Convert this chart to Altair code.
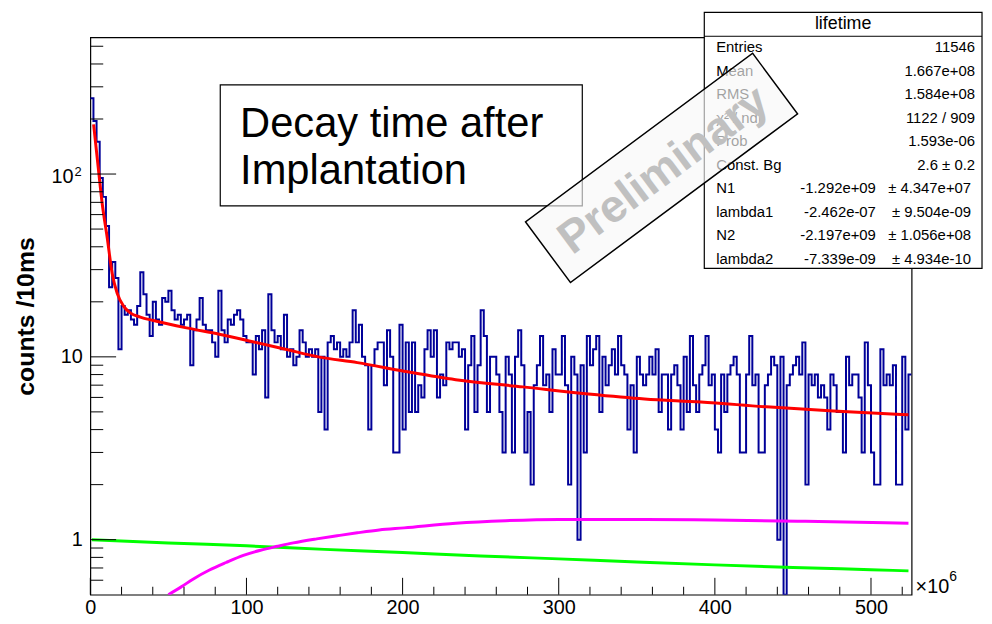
import altair as alt
import pandas as pd

# ---------------- data ----------------
BIN_WIDTH = 2.0  # x in units of 1e6
counts = [
    260, 195, 150, 95, 75, 52, 24, 33, 27, 11,
    19, 17, 18, 16, 15, 19, 29, 22, 17, 13,
    20, 16, 15, 21, 20, 23, 18, 16, 17, 15,
    16, 17, 9, 14, 16, 21, 15, 14, 14, 12,
    10, 23, 14, 12, 16, 15, 17, 18, 16, 13,
    12, 12, 8, 13, 11, 14, 6, 22, 14, 12,
    13, 11, 17, 10, 11, 9, 10, 14, 12, 10,
    11, 10, 11, 5, 10, 4, 12, 13, 11, 12,
    10, 11, 10, 12, 18, 12, 15, 10, 9, 4,
    9, 11, 12, 12, 7, 14, 10, 3, 3, 15,
    4, 12, 5, 12, 5, 7, 6, 11, 14, 10,
    14, 6, 8, 7, 12, 11, 12, 12, 10, 11,
    4, 9, 13, 5, 9, 18, 13, 5, 10, 10,
    8, 5, 3, 10, 8, 3, 10, 14, 9, 3,
    5, 2, 7, 9, 13, 7, 8, 5, 11, 8,
    8, 13, 7, 2, 10, 8, 1, 9, 3, 13,
    9, 11, 13, 5, 10, 7, 9, 11, 8, 13,
    9, 8, 4, 7, 3, 10, 8, 7, 8, 10,
    8, 11, 5, 8, 8, 4, 8, 9, 7, 4,
    10, 5, 13, 7, 5, 8, 9, 13, 7, 8,
    4, 3, 8, 5, 8, 9, 10, 8, 3, 3,
    8, 13, 7, 8, 3, 3, 7, 8, 10, 9,
    1, 10, 0, 7, 8, 9, 10, 8, 12, 2,
    8, 7, 8, 6, 7, 6, 4, 8, 7, 5,
    5, 3, 10, 7, 8, 8, 6, 3, 12, 7,
    3, 2, 2, 11, 7, 8, 7, 9, 2, 2,
    10, 4, 8,
]

fit_x = [2.1, 5, 7.6, 10.8, 14, 17.2, 21.4, 25.6, 32, 40.4, 61.6, 82.6, 104, 125,
         146, 171, 201, 234, 277, 319, 355, 391, 433, 476, 524]
fit_y = [187, 110, 69, 45, 28.6, 22.3, 18.9, 17.4, 16.5, 15.8, 14.4, 13.3, 12.1, 11.0,
         10.0, 9.3, 8.35, 7.5, 6.85, 6.26, 5.88, 5.66, 5.33, 5.06, 4.82]

green_x = [1, 50, 100, 150, 200, 250, 300, 350, 400, 450, 500, 524]
green_y = [1.0, 0.96, 0.925, 0.885, 0.85, 0.815, 0.785, 0.755, 0.728, 0.705, 0.685, 0.675]

mag_x = [50, 58, 66, 76, 87, 98, 109, 120, 130, 145, 158, 171, 185, 201, 234, 266,
         300, 355, 400, 458, 524]
mag_y = [0.5, 0.55, 0.61, 0.68, 0.75, 0.82, 0.875, 0.92, 0.96, 1.01, 1.05, 1.09, 1.13,
         1.16, 1.23, 1.27, 1.29, 1.29, 1.28, 1.26, 1.23]

x_major = [0, 100, 200, 300, 400, 500]
x_minor = [v for v in range(20, 521, 20) if v % 100 != 0]
y_major = [1, 10, 100]
y_minor = [0.6, 0.7, 0.8, 0.9, 2, 3, 4, 5, 6, 7, 8, 9,
           20, 30, 40, 50, 60, 70, 80, 90, 200, 300, 400, 500]

stat_labels = ["Entries", "Mean", "RMS", "\u03c7\u00b2 / ndf", "Prob", "Const. Bg",
               "N1", "lambda1", "N2", "lambda2"]
stat_values = ["11546", "1.667e+08", "1.584e+08", "1122 / 909", "1.593e-06",
               "2.6 \u00b1 0.2",
               "-1.292e+09", "-2.462e-07", "-2.197e+09", "-7.339e-09"]
stat_errors = ["", "", "", "", "", "",
               "\u00b1 4.347e+07", "\u00b1 9.504e-09", "\u00b1 1.056e+08", "\u00b1 4.934e-10"]

# ---------------- geometry ----------------
W, H = 828, 562
FONT = "Liberation Sans"

edges = [i * BIN_WIDTH for i in range(len(counts))] + [len(counts) * BIN_WIDTH]
hist_df = pd.DataFrame({"x": edges, "c": counts + [counts[-1]]})

xscale = alt.Scale(domain=[0, len(counts) * BIN_WIDTH], nice=False, zero=False)
yscale = alt.Scale(type="log", domain=[0.5, 560], nice=False, clamp=True)

xaxis = alt.Axis(values=x_major, ticks=False, domain=False, grid=False,
                 labelFont=FONT, labelFontSize=20, labelColor="black",
                 labelPadding=3, labelFlush=False, labelOverlap=False, title=None)
yaxis = alt.Axis(values=y_major, ticks=False, domain=False, grid=False,
                 labelFont=FONT, labelFontSize=20, labelColor="black",
                 labelPadding=8, labelOverlap=False, labelFlush=False,
                 labelExpr="datum.value == 100 ? '' : (datum.value == 10 ? '10' : '1')",
                 title="counts /10ms", titleFont=FONT, titleFontSize=25,
                 titleFontWeight="bold", titleColor="black", titleAngle=270,
                 titleX=-65, titleY=H / 2, titleAlign="center", titleBaseline="middle")

X = lambda f="x": alt.X(f"{f}:Q", scale=xscale, axis=xaxis)
Y = lambda f="y": alt.Y(f"{f}:Q", scale=yscale, axis=yaxis)

hist = alt.Chart(hist_df).transform_calculate(
    y="max(datum.c, 0.45)"
).mark_line(interpolate="step-after", color="#000099", strokeWidth=2, clip=True).encode(
    x=X(), y=Y()
)

def curve(xs, ys, color):
    return alt.Chart(pd.DataFrame({"x": xs, "y": ys})).mark_line(
        color=color, strokeWidth=3, interpolate="monotone", clip=True
    ).encode(x=X(), y=Y())

green = curve(green_x, green_y, "#00ff00")
magenta = curve(mag_x, mag_y, "#ff00ff")
red = curve(fit_x, fit_y, "#ff0000")

def xticks(vals, length):
    return alt.Chart(pd.DataFrame({"x": vals})).mark_rule(color="black", strokeWidth=1).encode(
        x=X(), y=alt.value(H), y2=alt.value(H - length))

def yticks(vals, length):
    return alt.Chart(pd.DataFrame({"y": vals})).mark_rule(color="black", strokeWidth=1).encode(
        y=Y(), x=alt.value(0), x2=alt.value(length))

one = pd.DataFrame({"k": [0]})

def text(t, x, y, size, align="left", baseline="middle", **kw):
    return alt.Chart(one).mark_text(
        text=t, font=FONT, fontSize=size, align=align, baseline=baseline,
        color=kw.pop("color", "black"), **kw
    ).encode(x=alt.value(x), y=alt.value(y))

def rect(x, x2, y, y2, **kw):
    return alt.Chart(one).mark_rect(**kw).encode(
        x=alt.value(x), x2=alt.value(x2), y=alt.value(y), y2=alt.value(y2))

# the 10^2 label, placed on the y scale at 100
lab100 = pd.DataFrame({"y": [100]})
lab10 = alt.Chart(lab100).mark_text(
    text="10", font=FONT, fontSize=20, align="right", baseline="middle", dy=3
).encode(x=alt.value(-17), y=Y())
sup2 = alt.Chart(lab100).mark_text(
    text="2", font=FONT, fontSize=13, align="left", baseline="middle", dy=-2
).encode(x=alt.value(-16), y=Y())

# x10^6 label
xexp = text("\u00d710", 832, 560, 20, baseline="alphabetic")
xexp6 = text("6", 866, 548, 14, baseline="alphabetic")

# text box
tbox = rect(131, 496, 48, 170, fill="white", stroke="black", strokeWidth=1.2)
t1 = text("Decay time after", 151, 101, 42, baseline="alphabetic")
t2 = text("Implantation", 151, 148, 42, baseline="alphabetic")

# stats box
sbox = rect(619, 899, -25, 233, fill="white", stroke="black", strokeWidth=1.2)
ssep = alt.Chart(one).mark_rule(color="black", strokeWidth=1).encode(
    x=alt.value(619), x2=alt.value(899), y=alt.value(-1))
stitle = text("lifetime", 759, -13, 18, align="center")
stat_layers = []
for i, (lab, val, err) in enumerate(zip(stat_labels, stat_values, stat_errors)):
    yy = 10 + 23.7 * i
    stat_layers.append(text(lab, 631, yy, 15))
    if err == "":
        stat_layers.append(text(val, 892, yy, 15, align="right"))
    else:
        stat_layers.append(text(val, 792, yy, 15, align="right"))
        stat_layers.append(text(err, 888, yy, 15, align="right"))

# Preliminary stamp
pbox = alt.Chart(one).mark_point(
    shape="M-1,-0.2665L1,-0.2665L1,0.2665L-1,0.2665Z", size=81339, angle=323.4,
    filled=True, fill="#f7f7f7", fillOpacity=0.65, stroke="black", strokeWidth=1.5,
    strokeOpacity=1, opacity=1
).encode(x=alt.value(575.9), y=alt.value(131.7))
ptext = alt.Chart(one).mark_text(
    text="Preliminary", font=FONT, fontWeight="bold", fontSize=46, angle=323.4,
    color="#c0c0c0", align="center", baseline="middle"
).encode(x=alt.value(578), y=alt.value(134))

chart = alt.layer(
    hist, green, magenta, red,
    xticks(x_major, 17), xticks(x_minor, 8),
    yticks(y_major, 26), yticks(y_minor, 13),
    lab10, sup2, xexp, xexp6, tbox, t1, t2,
    sbox, ssep, stitle, *stat_layers,
    pbox, ptext,
).properties(
    width=W, height=H, background="white",
    autosize=alt.AutoSizeParams(type="none"),
    padding={"left": 83, "top": 27, "right": 73, "bottom": 22},
).configure_view(stroke="black", strokeWidth=1.2, fill="white")

chart.save("out.html", embed_options={"renderer": "svg", "actions": False})
